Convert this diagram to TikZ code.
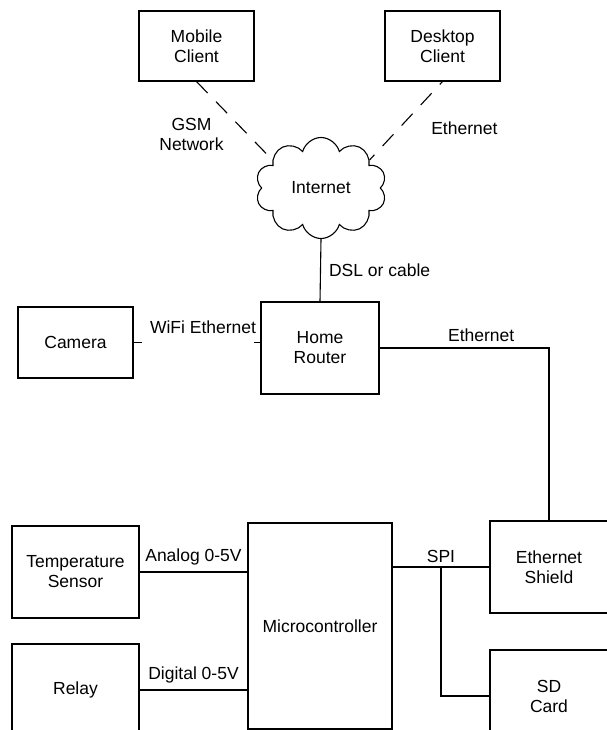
\documentclass[tikz,border=0pt]{standalone}
\usepackage{fontspec}
\setmainfont{Liberation Sans}
\usetikzlibrary{shapes,calc,positioning}

\begin{document}
\begin{tikzpicture}[x=1pt, y=-1pt, line width=1.1pt,
        font=\fontsize{17.5}{20}\selectfont,
        comp/.style={rectangle, draw, align=center, inner sep=0pt, minimum width=115pt, minimum height=92pt},
        net/.style={cloud, draw, cloud puffs=10, aspect=1.3, inner sep=0pt, minimum width=131pt, minimum height=101pt},
        radio/.style={dash pattern=on 16pt off 12pt},
        lbl/.style={align=center, inner sep=2pt}]
      \useasboundingbox (0,0) rectangle (606,730);

      \node[comp, minimum height=70pt] (mobile) at (196.5,46) {Mobile\\Client};
      \node[comp, minimum height=70pt] (desktop) at (442.5,46) {Desktop\\Client};
      \node[net] (inet) at (321,188) {Internet};
      \node[comp, minimum width=118pt] (router) at (320,348) {Home\\Router};
      \node[comp, minimum height=71pt] (camera) at (75.5,342.5) {Camera};

      \node[comp, minimum width=127pt] (temp) at (75.5,572) {Temperature\\Sensor};
      \node[comp, minimum width=127pt] (relay) at (75.5,690) {Relay};
      \node[comp, minimum width=144pt, minimum height=206pt] (micro) at (320,626) {Microcontroller};
      \node[comp, minimum width=118pt] (shield) at (549,567) {Ethernet\\Shield};
      \node[comp, minimum width=118pt] (sd) at (549,696) {SD\\Card};

      \draw[radio] (mobile.south) -- node[lbl, pos=0.68, left=22pt] {GSM\\Network} (inet.150);
      \draw[radio, dash phase=12pt] (desktop.south) -- node[lbl, pos=0.6, right=30pt] {Ethernet} (inet.30);
      \draw (inet.south) -- node[lbl, right=6pt] {DSL or cable} (router.north);
      \draw[dash pattern=on 8pt off 112pt] (camera.east) -- node[lbl, above=6pt, xshift=6pt] {WiFi Ethernet} (camera.east -| router.west);
      \draw (router.east) -| node[lbl, pos=0.3, above=4pt] {Ethernet} (shield.north);

      \draw (temp.east) -- node[lbl, above=4pt] {Analog 0-5V} (temp.east -| micro.west);
      \draw (relay.east) -- node[lbl, above=4pt] {Digital 0-5V} (relay.east -| micro.west);
      \coordinate (spi) at ($(shield.west -| micro.east)!0.5!(shield.west)$);
      \draw (shield.west -| micro.east) -- (shield.west);
      \draw (spi) |- (sd.west);
      \node[lbl, above=2pt] at (spi) {SPI};
    \end{tikzpicture}
\end{document}
